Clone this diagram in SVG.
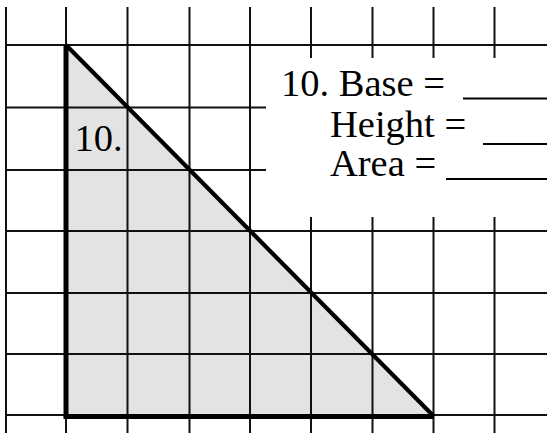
<svg xmlns="http://www.w3.org/2000/svg" width="547" height="433" viewBox="0 0 547 433">
  <style>
    .grid { stroke: #111; stroke-width: 2; fill: none; }
    .edge { stroke: #000; fill: none; stroke-linecap: butt; }
    .lbl { font-family: "Liberation Serif", "Times New Roman", serif; font-size: 38.5px; fill: #000; }
    .blank { stroke: #000; stroke-width: 1.8; }
  </style>
  <rect x="0" y="0" width="547" height="433" fill="#fff"/>
  <g id="triangle-fill">
    <polygon points="66,45 66,416.5 433.5,416.5" fill="#e3e3e3"/>
  </g>
  <g id="grid" class="grid">
    <line x1="6" y1="7" x2="6" y2="433"/>
    <line x1="66" y1="7" x2="66" y2="433"/>
    <line x1="127.5" y1="7" x2="127.5" y2="433"/>
    <line x1="189.5" y1="7" x2="189.5" y2="433"/>
    <line x1="250" y1="7" x2="250" y2="433"/>
    <line x1="311" y1="7" x2="311" y2="433"/>
    <line x1="372.5" y1="7" x2="372.5" y2="433"/>
    <line x1="433.5" y1="7" x2="433.5" y2="433"/>
    <line x1="494.5" y1="7" x2="494.5" y2="433"/>
    <line x1="6" y1="45" x2="547" y2="45"/>
    <line x1="6" y1="107.5" x2="547" y2="107.5"/>
    <line x1="6" y1="170" x2="547" y2="170"/>
    <line x1="6" y1="231" x2="547" y2="231"/>
    <line x1="6" y1="293" x2="547" y2="293"/>
    <line x1="6" y1="354" x2="547" y2="354"/>
    <line x1="6" y1="415" x2="547" y2="415"/>
  </g>
  <g id="answer-box">
    <rect x="266" y="58" width="281" height="159" fill="#fff"/>
    <text class="lbl" x="281" y="96">10. Base =</text>
    <text class="lbl" x="330" y="137">Height =</text>
    <text class="lbl" x="330" y="175.5">Area =</text>
    <line class="blank" x1="463" y1="98.5" x2="547" y2="98.5"/>
    <line class="blank" x1="483" y1="144" x2="547" y2="144"/>
    <line class="blank" x1="446" y1="179" x2="547" y2="179"/>
  </g>
  <g id="triangle-edges">
    <line class="edge" x1="66" y1="45" x2="66" y2="416.5" stroke-width="5"/>
    <line class="edge" x1="63.5" y1="416.5" x2="434" y2="416.5" stroke-width="5"/>
    <line class="edge" x1="66" y1="45" x2="434" y2="416.5" stroke-width="4.2"/>
    <text class="lbl" x="74.5" y="151">10.</text>
  </g>
</svg>
